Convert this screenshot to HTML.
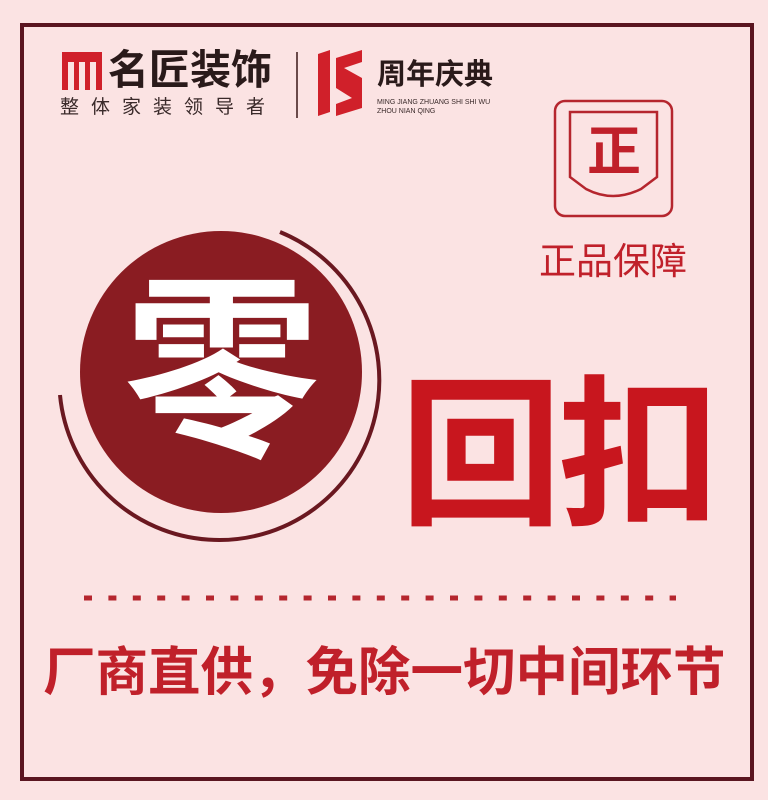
<!DOCTYPE html>
<html><head><meta charset="utf-8"><style>
body{margin:0;width:768px;height:800px;background:#fbe3e3;overflow:hidden;position:relative;font-family:"Liberation Sans","Noto Sans CJK SC",sans-serif}
.a{position:absolute;white-space:nowrap;line-height:1}
</style></head><body>
<div class="a" style="left:20px;top:23px;width:726px;height:750px;border:4px solid #5a1520"></div>
<svg class="a" style="left:62px;top:52px" width="40" height="38"><rect width="40" height="38" fill="#d0202a"/><rect x="6" y="10" width="6" height="28" fill="#fbe3e3"/><rect x="17" y="10" width="6" height="28" fill="#fbe3e3"/><rect x="28" y="10" width="6" height="28" fill="#fbe3e3"/></svg>
<div class="a" style="left:108px;top:50px;font-size:41px;font-weight:bold;color:#2a1a1a">名匠装饰</div>
<div class="a" style="left:60px;top:98px;font-size:19px;letter-spacing:12px;color:#3a2a2a">整体家装领导者</div>
<div class="a" style="left:296px;top:52px;width:2px;height:66px;background:#6a4a4a"></div>
<svg class="a" style="left:318px;top:50px" width="46" height="66"><polygon points="0,4 12,0 12,62 0,66" fill="#d0202a"/><polygon points="18,8 44,0 44,12 26,18 44,28 44,58 18,66 18,54 34,48 18,38" fill="#d0202a"/></svg>
<div class="a" style="left:377px;top:61px;font-size:29px;font-weight:bold;color:#2a1a1a">周年庆典</div>
<div class="a" style="left:377px;top:98px;font-size:7px;line-height:9px;color:#3a2a2a">MING JIANG ZHUANG SHI SHI WU<br>ZHOU NIAN QING</div>
<svg class="a" style="left:553px;top:99px" width="122" height="120"><rect x="2" y="2" width="117" height="115" rx="10" fill="none" stroke="#b5262e" stroke-width="2.5"/><path d="M17 13 H104 V78 L88 90 Q60 104 33 90 L17 78 Z" fill="none" stroke="#b5262e" stroke-width="2.5"/><text x="61" y="71" text-anchor="middle" font-size="54" font-weight="bold" fill="#c0202a" font-family="Noto Sans CJK SC,sans-serif">正</text></svg>
<div class="a" style="left:539px;top:243px;font-size:37px;color:#c0202a">正品保障</div>
<svg class="a" style="left:0;top:200px" width="400" height="360"><path d="M280 32 A160 160 0 1 1 60 195" fill="none" stroke="#6a1820" stroke-width="4"/><circle cx="221" cy="172" r="141" fill="#8a1c22"/><text x="222" y="240" text-anchor="middle" font-size="196" font-weight="bold" fill="#fff" font-family="Noto Sans CJK SC,sans-serif">零</text></svg>
<div class="a" style="left:400px;top:376px;font-size:162px;font-weight:bold;color:#c8161e;letter-spacing:-4px">回扣</div>
<svg class="a" style="left:84px;top:595px" width="592" height="6"><line x1="0" y1="3" x2="592" y2="3" stroke="#b5262e" stroke-width="5" stroke-dasharray="8,16.4"/></svg>
<div class="a" style="left:43px;top:647px;font-size:52.5px;font-weight:bold;color:#c0202a">厂商直供，免除一切中间环节</div>
</body></html>
